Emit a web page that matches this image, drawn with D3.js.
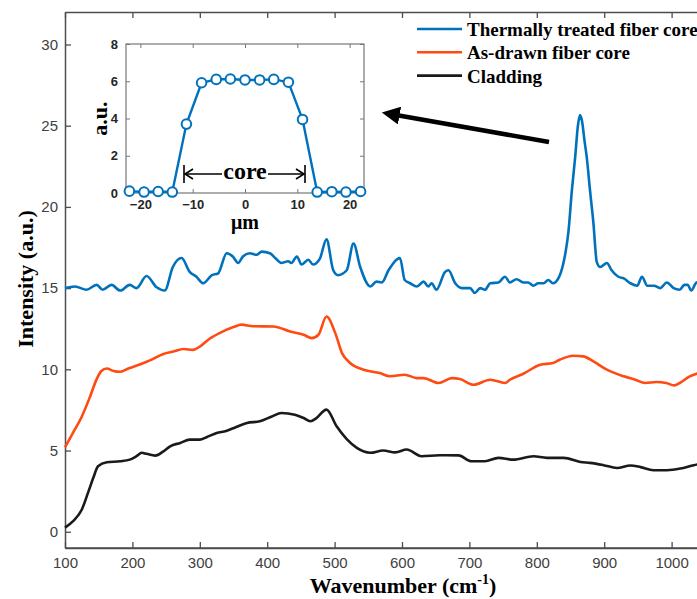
<!DOCTYPE html>
<html>
<head>
<meta charset="utf-8">
<script src="https://cdn.jsdelivr.net/npm/d3@7"></script>
<style>
  body { margin: 0; background: #fff; }
  svg { display: block; }
</style>
</head>
<body>
<svg id="chart" width="697" height="599"></svg>
<script>
const width = 697;
const height = 599;

// main spectra: [wavenumber, intensity]
const thermalData = [
  [100, 15.0], [115, 15.1], [132, 14.9], [147, 15.2], [156, 14.9], [169, 15.2], [182, 14.85],
  [196, 15.2], [206, 15.0], [221, 15.75], [236, 15.05], [248, 14.85], [260, 16.3], [273, 16.85],
  [285, 16.0], [295, 15.7], [305, 15.3], [318, 15.8], [327, 15.9], [340, 17.15], [349, 16.95],
  [357, 16.55], [364, 16.95], [374, 17.15], [384, 17.05], [392, 17.25], [404, 17.15], [412, 16.85],
  [421, 16.55], [431, 16.65], [436, 16.55], [444, 16.95], [451, 16.45], [461, 16.75], [468, 16.45],
  [478, 16.8], [488, 18.0], [498, 16.1], [505, 15.8], [518, 16.1], [528, 17.75], [538, 16.3],
  [553, 15.1], [562, 15.4], [570, 15.35], [580, 16.1], [597, 16.85], [604, 15.5], [612, 15.3],
  [622, 15.1], [632, 15.4], [639, 15.1], [644, 15.3], [651, 14.9], [664, 16.0], [669, 16.1],
  [679, 15.3], [689, 15.0], [701, 15.0], [708, 14.7], [716, 15.0], [723, 14.9], [731, 15.3],
  [743, 15.35], [753, 15.7], [760, 15.35], [770, 15.55], [780, 15.35], [787, 15.35], [795, 15.15],
  [802, 15.3], [810, 15.3], [817, 15.5], [824, 15.3], [832, 15.6], [839, 16.45], [843, 17.3],
  [847, 18.5], [852, 21.0], [857, 23.1], [861, 25.0], [864, 25.65], [867, 25.3], [871, 24.0],
  [874, 23.1], [879, 21.0], [884, 19.0], [889, 16.6], [894, 16.3], [904, 16.55], [911, 16.1],
  [921, 15.7], [929, 15.6], [939, 15.3], [949, 15.15], [956, 15.7], [964, 15.15], [974, 15.15],
  [983, 15.0], [993, 15.35], [1003, 15.0], [1012, 14.9], [1019, 15.2], [1024, 15.2], [1029, 14.85],
  [1037, 15.35], [1045, 15.4]
];

const asDrawnData = [
  [100, 5.2], [112, 6.1], [125, 7.1], [137, 8.3], [147, 9.4], [154, 9.9], [162, 10.05], [172, 9.9],
  [182, 9.85], [194, 10.05], [211, 10.3], [226, 10.55], [246, 10.95], [261, 11.1], [276, 11.25],
  [290, 11.2], [300, 11.4], [315, 11.9], [330, 12.25], [350, 12.6], [362, 12.75], [379, 12.65],
  [409, 12.64], [434, 12.33], [454, 12.13], [466, 11.92], [476, 12.13], [488, 13.25], [501, 12.23],
  [511, 11.0], [523, 10.39], [543, 9.98], [567, 9.77], [582, 9.57], [604, 9.67], [622, 9.46],
  [632, 9.46], [654, 9.16], [674, 9.46], [686, 9.4], [706, 9.05], [731, 9.36], [753, 9.16],
  [760, 9.36], [780, 9.73], [805, 10.28], [824, 10.39], [834, 10.59], [854, 10.84], [869, 10.8],
  [884, 10.49], [904, 9.98], [929, 9.57], [946, 9.36], [961, 9.16], [977, 9.22], [992, 9.16],
  [1004, 9.01], [1012, 9.16], [1027, 9.57], [1037, 9.73], [1045, 9.8]
];

const claddingData = [
  [100, 0.25], [112, 0.65], [125, 1.37], [135, 2.5], [142, 3.32], [149, 4.03], [162, 4.28],
  [182, 4.34], [196, 4.44], [206, 4.65], [214, 4.86], [221, 4.8], [234, 4.69], [246, 4.95],
  [256, 5.26], [271, 5.47], [285, 5.67], [300, 5.67], [310, 5.82], [325, 6.08], [339, 6.2],
  [354, 6.45], [370, 6.7], [389, 6.8], [407, 7.1], [421, 7.31], [441, 7.21], [454, 7.0],
  [464, 6.8], [473, 7.0], [488, 7.52], [503, 6.49], [518, 5.7], [533, 5.16], [553, 4.86],
  [572, 5.0], [590, 4.89], [607, 5.06], [629, 4.65], [656, 4.71], [684, 4.7], [703, 4.34],
  [723, 4.34], [743, 4.55], [765, 4.44], [795, 4.65], [815, 4.55], [840, 4.55], [865, 4.3],
  [879, 4.24], [899, 4.1], [919, 3.93], [939, 4.08], [954, 3.98], [973, 3.79], [993, 3.79],
  [1013, 3.89], [1033, 4.1], [1045, 4.2]
];

const seriesNames = ["Thermally treated fiber core", "As-drawn fiber core", "Cladding"];
const seriesColors = ["#0072bd", "#ff4a12", "#1a1a1a"];

const xTicks = [100, 200, 300, 400, 500, 600, 700, 800, 900, 1000];
const yTicks = [0, 5, 10, 15, 20, 25, 30];

// inset: radial profile
const profileX = [-22.1, -19.3, -16.6, -13.9, -11.2, -8.3, -5.5, -2.8, 0, 2.8, 5.5, 8.3, 11.0, 13.8, 16.6, 19.3, 22.1];
const profileY = [0.1, 0.05, 0.08, 0.05, 3.7, 5.92, 6.1, 6.12, 6.07, 6.07, 6.1, 5.95, 3.95, 0.05, 0.07, 0.05, 0.08];
const insetXTicks = [-20, -10, 0, 10, 20];
const insetYTicks = [0, 2, 4, 6, 8];

const svg = d3.select("#chart");

const x = d3.scaleLinear().domain([100, 1100]).range([65, 739]);
const y = d3.scaleLinear().domain([-1, 32]).range([548, 12]);

const axisColor = "#4d4d4d";
const tickFont = "'Liberation Sans', Arial, sans-serif";
const serif = "'Liberation Serif', 'Times New Roman', serif";

// axes box with inward ticks
const styleAxis = (g) => {
  g.select(".domain").attr("stroke", axisColor).attr("stroke-width", 1.5);
  g.selectAll(".tick line").attr("stroke", axisColor).attr("stroke-width", 1.3);
  g.selectAll(".tick text")
    .attr("fill", "#404040")
    .style("font-family", tickFont)
    .style("font-size", "15px");
};

svg.append("g")
  .attr("transform", `translate(0,${y(-1)})`)
  .call(d3.axisBottom(x).tickValues(xTicks).tickFormat(d3.format("d")).tickSize(-6).tickPadding(9).tickSizeOuter(0))
  .call(styleAxis);

// the box continues past the right edge of the page
svg.append("line")
  .attr("x1", x(100)).attr("x2", width)
  .attr("y1", y(-1)).attr("y2", y(-1))
  .attr("stroke", axisColor).attr("stroke-width", 1.5);

svg.append("g")
  .attr("transform", `translate(0,${y(32)})`)
  .call(d3.axisTop(x).tickValues(xTicks).tickSize(-6).tickFormat("").tickSizeOuter(0))
  .call(styleAxis);

svg.append("g")
  .attr("transform", `translate(${x(100)},0)`)
  .call(d3.axisLeft(y).tickValues(yTicks).tickSize(-6).tickPadding(7).tickSizeOuter(0))
  .call(styleAxis);

const line = d3.line()
  .x((d) => x(d[0]))
  .y((d) => y(d[1]))
  .curve(d3.curveMonotoneX);

[thermalData, asDrawnData, claddingData].forEach((data, i) => {
  svg.append("path")
    .datum(data)
    .attr("fill", "none")
    .attr("stroke", seriesColors[i])
    .attr("stroke-width", 2.6)
    .attr("stroke-linejoin", "round")
    .attr("d", line);
});

// axis labels
svg.append("text")
  .attr("x", 403)
  .attr("y", 593)
  .attr("text-anchor", "middle")
  .style("font-family", serif)
  .style("font-weight", "bold")
  .style("font-size", "22px")
  .html('Wavenumber (cm<tspan dy="-9" font-size="14px">-1</tspan><tspan dy="9">)</tspan>');

svg.append("text")
  .attr("transform", "translate(33,279) rotate(-90)")
  .attr("text-anchor", "middle")
  .style("font-family", serif)
  .style("font-weight", "bold")
  .style("font-size", "22px")
  .text("Intensity (a.u.)");

// legend
const legend = svg.append("g").attr("transform", "translate(417,29)");
seriesNames.forEach((name, i) => {
  const row = legend.append("g").attr("transform", `translate(0,${i * 23.3})`);
  row.append("line")
    .attr("x1", 0).attr("x2", 45)
    .attr("stroke", seriesColors[i])
    .attr("stroke-width", 2.6);
  row.append("text")
    .attr("x", 50)
    .attr("y", 7)
    .style("font-family", serif)
    .style("font-weight", "bold")
    .style("font-size", "19px")
    .text(name);
});

// pointer arrow
svg.append("defs").append("marker")
  .attr("id", "bigHead")
  .attr("viewBox", "0 0 10 10")
  .attr("refX", 2).attr("refY", 5)
  .attr("markerWidth", 4).attr("markerHeight", 4)
  .attr("orient", "auto")
  .append("path")
  .attr("d", "M0,0 L10,5 L0,10 Z")
  .attr("fill", "#000");

svg.append("line")
  .attr("x1", 549).attr("y1", 142)
  .attr("x2", 396).attr("y2", 115)
  .attr("stroke", "#000")
  .attr("stroke-width", 4.5)
  .attr("marker-end", "url(#bigHead)");

// inset
const ix = d3.scaleLinear().domain([-22.75, 22.75]).range([126, 364]);
const iy = d3.scaleLinear().domain([0, 8]).range([193, 44]);

const inset = svg.append("g");
inset.append("rect")
  .attr("x", ix(-22.75)).attr("y", iy(8))
  .attr("width", ix(22.75) - ix(-22.75))
  .attr("height", iy(0) - iy(8))
  .attr("fill", "#fff")
  .attr("stroke", "#777")
  .attr("stroke-width", 1.2);

const styleInsetAxis = (g) => {
  g.select(".domain").remove();
  g.selectAll(".tick line").attr("stroke", "#777").attr("stroke-width", 1);
  g.selectAll(".tick text")
    .attr("fill", "#262626")
    .style("font-family", tickFont)
    .style("font-weight", "bold")
    .style("font-size", "13px");
};

inset.append("g")
  .attr("transform", `translate(0,${iy(0)})`)
  .call(d3.axisBottom(ix).tickValues(insetXTicks).tickSize(-4).tickPadding(7))
  .call(styleInsetAxis);
inset.append("g")
  .attr("transform", `translate(0,${iy(8)})`)
  .call(d3.axisTop(ix).tickValues(insetXTicks).tickSize(-4).tickFormat(""))
  .call(styleInsetAxis);
inset.append("g")
  .attr("transform", `translate(${ix(-22.75)},0)`)
  .call(d3.axisLeft(iy).tickValues(insetYTicks).tickSize(-4).tickPadding(8))
  .call(styleInsetAxis);
inset.append("g")
  .attr("transform", `translate(${ix(22.75)},0)`)
  .call(d3.axisRight(iy).tickValues(insetYTicks).tickSize(-4).tickFormat(""))
  .call(styleInsetAxis);

const profile = profileX.map((d, i) => [d, profileY[i]]);

inset.append("path")
  .datum(profile)
  .attr("fill", "none")
  .attr("stroke", "#0072bd")
  .attr("stroke-width", 2.4)
  .attr("d", d3.line().x((d) => ix(d[0])).y((d) => iy(d[1])));

inset.selectAll("circle")
  .data(profile)
  .enter()
  .append("circle")
  .attr("cx", (d) => ix(d[0]))
  .attr("cy", (d) => iy(d[1]))
  .attr("r", 4.8)
  .attr("fill", "#fff")
  .attr("stroke", "#0072bd")
  .attr("stroke-width", 2);

inset.append("text")
  .attr("transform", `translate(107,${iy(4)}) rotate(-90)`)
  .attr("text-anchor", "middle")
  .style("font-family", serif)
  .style("font-weight", "bold")
  .style("font-size", "22px")
  .text("a.u.");

inset.append("text")
  .attr("x", ix(0))
  .attr("y", 229)
  .attr("text-anchor", "middle")
  .style("font-family", serif)
  .style("font-weight", "bold")
  .style("font-size", "20px")
  .text("\u03bcm");

// core width marker
const coreY = 174;
const coreL = 184;
const coreR = 305;
const core = inset.append("g").attr("stroke", "#000").attr("stroke-width", 1.6).attr("fill", "none");
core.append("line").attr("x1", coreL).attr("x2", coreL).attr("y1", 165).attr("y2", 183);
core.append("line").attr("x1", coreR).attr("x2", coreR).attr("y1", 165).attr("y2", 183);
core.append("line").attr("x1", coreL + 1).attr("x2", 222).attr("y1", coreY).attr("y2", coreY);
core.append("line").attr("x1", 268).attr("x2", coreR - 1).attr("y1", coreY).attr("y2", coreY);
core.append("path").attr("d", `M${coreL + 9},${coreY - 5} L${coreL + 1},${coreY} L${coreL + 9},${coreY + 5}`);
core.append("path").attr("d", `M${coreR - 9},${coreY - 5} L${coreR - 1},${coreY} L${coreR - 9},${coreY + 5}`);

inset.append("text")
  .attr("x", 245)
  .attr("y", 179)
  .attr("text-anchor", "middle")
  .style("font-family", serif)
  .style("font-weight", "bold")
  .style("font-size", "24px")
  .text("core");
</script>
</body>
</html>
